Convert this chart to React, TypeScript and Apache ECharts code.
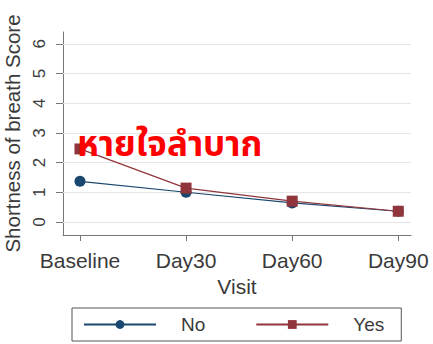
import React, { useEffect, useRef } from "react";
import * as echarts from "echarts";

const categories = ["Baseline", "Day30", "Day60", "Day90"];
const noValues = [1.37, 1.0, 0.64, 0.36];
const yesValues = [2.46, 1.14, 0.7, 0.36];
const yTicks = [0, 1, 2, 3, 4, 5, 6];
const xPositions = [0, 1, 2, 3];
const annotation = "หายใจลำบาก";

const font = "'Liberation Sans', Arial, sans-serif";

export default function App() {
  const ref = useRef<HTMLDivElement>(null);
  useEffect(() => {
    if (!ref.current) return;
    const chart = echarts.init(ref.current, undefined, { renderer: "svg" });
    const toPts = (vals: number[]) => vals.map((v, i) => [xPositions[i], v]);
    chart.setOption({
      animation: false,
      backgroundColor: "#ffffff",
      textStyle: { fontFamily: font },
      grid: { left: 63, right: 22, top: 32, bottom: 109, containLabel: false, outerBoundsMode: "none" },
      xAxis: {
        type: "value",
        min: -0.16,
        max: 3.12,
        name: "Visit",
        nameLocation: "middle",
        nameGap: 34,
        nameTextStyle: { fontSize: 21, color: "#3a3a3a", fontFamily: font },
        axisLine: { show: true, onZero: false, lineStyle: { color: "#777", width: 1 } },
        axisTick: { show: true, length: 6, lineStyle: { color: "#777" }, customValues: xPositions },
        axisLabel: {
          customValues: xPositions,
          formatter: (v: number) => categories[Math.round(v)] ?? "",
          fontSize: 21,
          color: "#3a3a3a",
          margin: 15,
          fontFamily: font,
          hideOverlap: false,
        },
        splitLine: { show: false },
      },
      yAxis: {
        type: "value",
        min: -0.44,
        max: 6.4,
        name: "Shortness of breath Score",
        nameLocation: "middle",
        nameGap: 31,
        nameRotate: 90,
        nameTextStyle: { fontSize: 20.5, color: "#3a3a3a", fontFamily: font },
        axisLine: { show: true, onZero: false, lineStyle: { color: "#777", width: 1 } },
        axisTick: { show: true, length: 7, lineStyle: { color: "#777" }, customValues: yTicks },
        axisLabel: {
          customValues: yTicks,
          rotate: 90,
          fontSize: 17,
          color: "#3a3a3a",
          margin: 15,
          fontFamily: font,
        },
        splitLine: { show: false },
      },
      legend: {
        left: 72,
        top: 308,
        padding: [7, 17, 7, 11],
        borderColor: "#555",
        borderWidth: 1,
        itemWidth: 72,
        itemHeight: 11,
        itemGap: 50,
        textStyle: { fontSize: 19, color: "#3a3a3a", fontFamily: font, padding: [0, 0, 0, 20] },
        data: ["No", "Yes"],
      },
      series: [
        {
          name: "No",
          type: "line",
          data: toPts(noValues),
          symbol: "circle",
          symbolSize: 11,
          itemStyle: { color: "#1a476f" },
          lineStyle: { color: "#1a476f", width: 1.2 },
          z: 3,
          markLine: {
            silent: true,
            symbol: "none",
            label: { show: false },
            lineStyle: { color: "#e6e6e6", width: 1, type: "solid" },
            data: yTicks.map((t) => ({ yAxis: t })),
            z: 1,
          },
        },
        {
          name: "Yes",
          type: "line",
          data: toPts(yesValues),
          symbol: "rect",
          symbolSize: 11,
          itemStyle: { color: "#90353b" },
          lineStyle: { color: "#90353b", width: 1.2 },
          z: 4,
        },
      ],
      graphic: [
        {
          type: "text",
          left: 77,
          top: 128,
          z: 100,
          style: {
            text: annotation,
            fill: "#ff0000",
            fontSize: 35,
            fontWeight: "bold",
            fontFamily: "'Noto Sans Thai', 'Noto Sans', 'DejaVu Sans', sans-serif",
          },
        },
      ],
    });
    return () => chart.dispose();
  }, []);
  return <div ref={ref} style={{ width: 433, height: 344, position: "absolute", left: 0, top: 0 }} />;
}
